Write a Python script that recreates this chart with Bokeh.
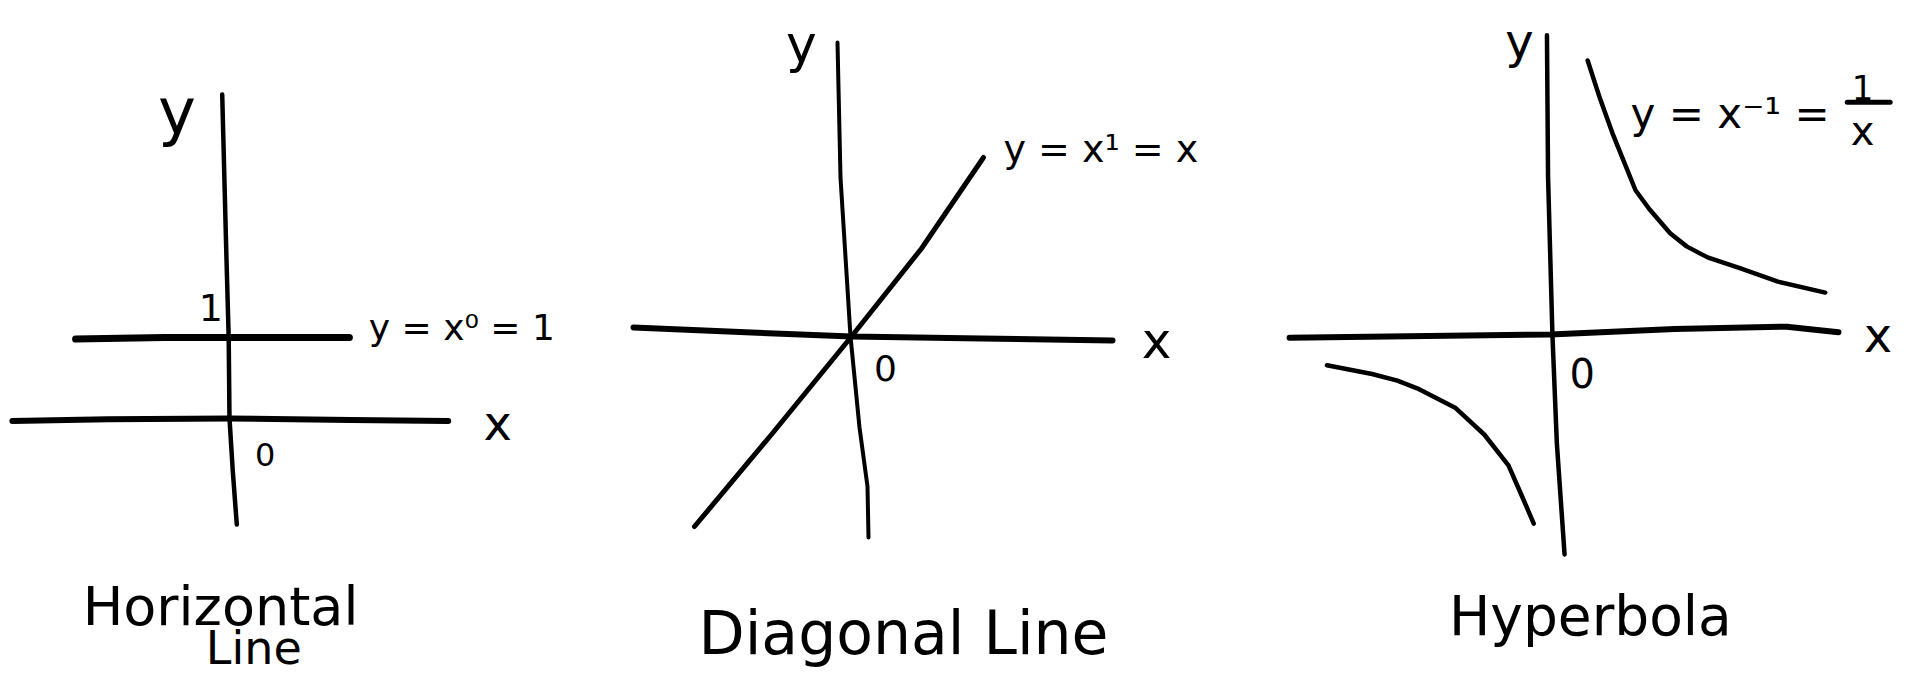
from bokeh.plotting import figure
from bokeh.layouts import row
from bokeh.models import Range1d
from bokeh.core.properties import value
from bokeh.embed import file_html
from bokeh.resources import INLINE

FONT = "DejaVu Sans"
INK = "black"

# ---------------- data (in each panel's own units) ----------------
# Panel 1: horizontal line y = x^0 = 1
p1_xaxis_x = [-2.68, -1.5, 0.0, 1.5, 2.70]
p1_xaxis_y = [-0.03, -0.01, 0.0, -0.02, -0.03]
p1_yaxis_x = [-0.09, -0.04, -0.01, 0.0, 0.04, 0.09]
p1_yaxis_y = [4.0, 2.07, 1.0, 0.0, -0.64, -1.31]
p1_curve_x = [-1.90, -0.80, 0.0, 1.0, 1.48]
p1_curve_y = [0.98, 1.0, 1.0, 1.0, 1.0]

# Panel 2: diagonal line y = x^1 = x
p2_xaxis_x = [-2.18, -1.0, 0.0, 1.3, 2.61]
p2_xaxis_y = [0.09, 0.04, 0.0, -0.02, -0.04]
p2_yaxis_x = [-0.14, -0.11, -0.01, 0.08, 0.16, 0.17]
p2_yaxis_y = [2.94, 1.59, 0.0, -0.91, -1.50, -2.01]
p2_curve_x = [-1.57, -0.80, 0.0, 0.70, 1.32]
p2_curve_y = [-1.90, -0.98, 0.0, 0.88, 1.79]

# Panel 3: hyperbola y = x^-1 = 1/x
p3_xaxis_x = [-2.39, -0.02, 1.11, 2.13, 2.60]
p3_xaxis_y = [-0.02, 0.01, 0.06, 0.08, 0.03]
p3_yaxis_x = [-0.05, -0.04, 0.0, 0.04, 0.11]
p3_yaxis_y = [2.73, 1.44, 0.0, -0.98, -1.99]
p3_upper_x = [0.32, 0.43, 0.545, 0.755, 0.88, 1.07, 1.22, 1.41, 1.71, 2.05, 2.48]
p3_upper_y = [2.50, 2.16, 1.84, 1.32, 1.15, 0.93, 0.81, 0.71, 0.61, 0.49, 0.39]
p3_lower_x = [-2.05, -1.64, -1.41, -1.23, -0.88, -0.62, -0.40, -0.26, -0.17]
p3_lower_y = [-0.27, -0.35, -0.41, -0.48, -0.66, -0.90, -1.18, -1.50, -1.71]
p3_frac_bar_x = [2.68, 3.07]
p3_frac_bar_y = [2.12, 2.12]

H = 679


def make_fig(width, x0, x1, y0, y1):
    p = figure(width=width, height=H, x_range=Range1d(x0, x1), y_range=Range1d(y0, y1),
               output_backend="svg", toolbar_location=None, min_border=0,
               x_axis_location=None, y_axis_location=None)
    p.xgrid.visible = False
    p.ygrid.visible = False
    p.outline_line_color = None
    p.background_fill_color = "white"
    p.border_fill_color = "white"
    return p


def ink_line(p, xs, ys, w):
    p.line(xs, ys, line_color=INK, line_width=w, line_cap="round", line_join="round")


def label(p, x, y, txt, size, align="center"):
    p.text(x=[x], y=[y], text=[txt], text_font=value(FONT), text_font_size=value(size),
           text_align=align, text_baseline="alphabetic", text_color=INK)


# ---------------- Panel 1 ----------------
p1 = make_fig(600, -2.827, 4.580, -3.222, 5.160)
ink_line(p1, p1_xaxis_x, p1_xaxis_y, 6)
ink_line(p1, p1_yaxis_x, p1_yaxis_y, 4.5)
ink_line(p1, p1_curve_x, p1_curve_y, 7)
label(p1, -0.65, 3.78, "y", "64px")
label(p1, 3.31, -0.06, "x", "48px")
label(p1, 0.44, -0.44, "0", "32px")
label(p1, -0.23, 1.37, "1", "38px")
label(p1, 1.72, 1.12, "y = x⁰ = 1", "36px", align="left")
label(p1, -0.11, -2.316, "Horizontal", "54px")
label(p1, 0.30, -2.833, "Line", "46px")

# ---------------- Panel 2 ----------------
p2 = make_fig(640, -2.51, 3.89, -3.43, 3.36)
ink_line(p2, p2_xaxis_x, p2_xaxis_y, 6)
ink_line(p2, p2_yaxis_x, p2_yaxis_y, 4)
ink_line(p2, p2_curve_x, p2_curve_y, 5)
label(p2, -0.50, 2.93, "y", "52px")
label(p2, 3.05, -0.04, "x", "50px")
label(p2, 0.34, -0.31, "0", "36px")
label(p2, 1.52, 1.877, "y = x¹ = x", "38px", align="left")
label(p2, 0.52, -2.96, "Diagonal Line", "60px")

# ---------------- Panel 3 ----------------
p3 = make_fig(659, -2.836, 3.155, -3.127, 3.045)
ink_line(p3, p3_xaxis_x, p3_xaxis_y, 6)
ink_line(p3, p3_yaxis_x, p3_yaxis_y, 4.5)
ink_line(p3, p3_upper_x, p3_upper_y, 4.5)
ink_line(p3, p3_lower_x, p3_lower_y, 4.5)
ink_line(p3, p3_frac_bar_x, p3_frac_bar_y, 5)
label(p3, -0.30, 2.68, "y", "48px")
label(p3, 2.96, 0.0, "x", "48px")
label(p3, 0.27, -0.34, "0", "40px")
label(p3, 0.71, 2.02, "y = x⁻¹ =", "42px", align="left")
label(p3, 2.82, 2.256, "1", "34px")
label(p3, 2.82, 1.86, "x", "40px")
label(p3, 0.345, -2.55, "Hyperbola", "55px")

layout = row(p1, p2, p3, spacing=0)
open("out.html", "w").write(file_html(layout, INLINE))
